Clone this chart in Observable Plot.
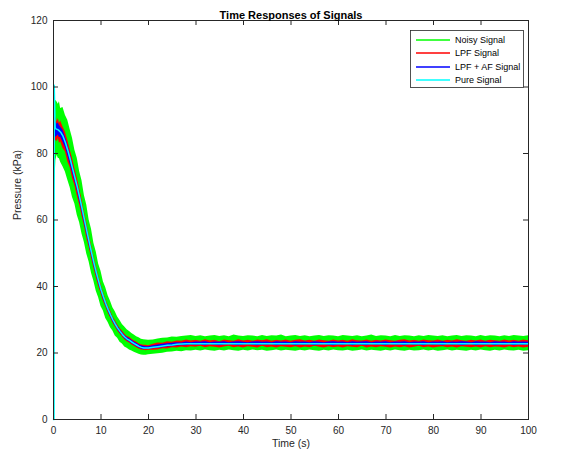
<!DOCTYPE html>
<html><head><meta charset="utf-8">
<script src="https://cdn.jsdelivr.net/npm/d3@7"></script>
<script src="https://cdn.jsdelivr.net/npm/@observablehq/plot@0.6"></script>
<style>body{margin:0;background:#fff;}</style>
</head><body><div id="chart"></div>
<script>
// sample times (s)
const time = [0,0.15,0.25,0.5,0.75,1,1.25,1.5,2,2.5,3,3.5,4,4.5,5,5.5,6,6.5,7,7.5,8,8.5,9,9.5,10,10.5,11,11.5,12,12.5,13,13.5,14,14.5,15,15.5,16,16.5,17,17.5,18,18.5,19,19.5,20,
21,22,23,24,25,26,27,28,29,30,31,32,33,34,35,36,37,38,39,40,41,42,43,44,45,46,47,48,49,50,
51,52,53,54,55,56,57,58,59,60,61,62,63,64,65,66,67,68,69,70,71,72,73,74,75,76,77,78,79,80,
81,82,83,84,85,86,87,88,89,90,91,92,93,94,95,96,97,98,99,100];

// Noisy signal envelope (kPa)
const noisyHigh = [1,92,94.5,96,95.5,94.8,95.6,93.5,93.8,91.5,90,87.2,84.6,81,78.6,74.6,71.8,67.4,64.5,60,57.2,53,50.4,46.8,44.6,41.4,39.6,37.2,35.6,33.6,32.4,30.8,29.8,28.6,27.8,27.0,26.5,25.9,25.4,24.9,24.6,24.1,24.0,23.9,23.8,
23.9,24.2,24.4,24.5,24.8,24.7,25.0,25.1,25.3,25.0,25.2,24.9,25.1,25.3,25.0,25.2,24.9,25.4,25.1,25.0,25.2,25.1,24.9,25.3,25.0,25.2,25.1,25.4,24.9,25.1,
25.3,25.0,25.2,24.9,25.1,25.3,25.0,25.2,25.1,24.9,25.3,25.1,25.0,25.2,24.9,25.1,25.4,25.0,25.2,25.1,24.9,25.3,25.0,25.2,25.1,24.9,25.2,25.0,25.3,25.1,
25.0,25.2,24.9,25.1,25.3,25.0,25.2,25.1,24.9,25.3,25.0,25.2,25.1,24.9,25.2,25.0,25.3,25.1,25.0,25.2];
const noisyLow = [0,66,70,78,79.5,78.6,78.4,77.4,76,74.4,72,69.8,66.8,64.8,61.4,59.2,55.8,53.2,49.8,47.4,44,41.6,38.6,36.6,34,32.6,30.4,29.2,27.6,26.6,25.1,24.4,23.2,22.7,21.8,21.4,20.9,20.6,20.2,19.9,19.6,19.4,19.3,19.3,19.5,
19.6,19.8,19.9,20.2,20.3,20.5,20.4,20.7,20.6,20.8,20.6,20.9,20.7,20.5,20.8,20.6,20.9,20.7,20.5,20.8,20.6,20.9,20.7,20.8,20.5,20.7,20.9,20.6,20.8,20.7,
20.5,20.8,20.6,20.9,20.7,20.5,20.8,20.6,20.9,20.7,20.6,20.8,20.5,20.7,20.9,20.6,20.8,20.7,20.5,20.8,20.6,20.9,20.7,20.5,20.8,20.6,20.7,20.9,20.6,20.8,
20.5,20.7,20.9,20.6,20.8,20.7,20.5,20.8,20.6,20.9,20.7,20.5,20.8,20.6,20.9,20.7,20.6,20.8,20.5,20.7];

// LPF signal envelope (kPa)
const lpfHigh = [0.5,90,90.5,91,89.5,90.5,89,89.8,88,86.5,84,81.2,78.5,75.5,72.6,69.5,66.2,62.4,59.2,55.4,52.4,49.0,46.2,43.2,40.6,38.3,36.2,34.3,32.7,31.0,29.8,28.5,27.4,26.6,25.7,25.0,24.7,24.1,23.6,23.3,22.8,22.5,22.3,22.3,22.2,
22.6,23.0,22.9,23.4,23.2,23.6,23.5,23.9,23.6,23.8,23.5,24.0,23.6,23.8,23.4,23.9,23.7,23.5,24.0,23.6,23.8,23.5,23.9,23.7,24.0,23.5,23.8,23.6,23.9,23.5,
23.8,24.0,23.6,23.8,23.5,23.9,23.7,23.5,23.9,23.6,23.8,23.5,24.0,23.7,23.6,23.9,23.5,23.8,23.6,23.9,23.7,23.5,23.8,24.0,23.6,23.8,23.5,23.9,23.7,23.6,
23.9,23.5,23.8,23.6,24.0,23.7,23.5,23.8,23.6,23.9,23.5,23.8,23.7,23.5,23.9,23.6,23.8,23.5,23.9,23.7];
const lpfLow = [0,80,83,84,83.5,84.5,83,83.5,81.5,80.5,77.5,75.8,72.5,70.4,67.2,64.6,61.2,58.2,54.6,51.8,48.5,45.5,42.7,40.1,37.8,35.6,33.8,32.0,30.5,29.0,27.8,26.6,25.7,24.8,24.0,23.4,23.0,22.4,22.0,21.6,21.2,20.9,20.8,20.7,20.8,
20.8,20.9,21.3,21.2,21.6,21.5,21.8,21.6,21.9,21.7,22.0,21.6,21.9,21.7,21.5,21.8,22.0,21.6,21.8,21.5,21.9,21.7,21.5,22.0,21.6,21.8,21.5,21.9,21.7,21.6,
21.9,21.5,21.8,21.6,22.0,21.7,21.5,21.9,21.6,21.8,21.5,21.9,21.7,21.6,22.0,21.5,21.8,21.6,21.9,21.7,21.5,21.8,21.6,21.9,21.5,21.7,22.0,21.6,21.8,21.5,
21.7,21.9,21.6,21.8,21.5,21.9,21.7,21.6,21.8,21.5,21.9,21.6,21.8,21.7,21.5,21.9,21.6,21.8,21.5,21.7];

// LPF + AF signal envelope (kPa)
const lpfAfHigh = [0.4,88,88.5,89.5,88.8,89.2,88.4,88,87,85,82.6,79.9,77.1,74.2,71.2,68.2,64.9,61.3,58.0,54.6,51.3,48.2,45.2,42.4,39.9,37.6,35.6,33.8,32.2,30.6,29.3,28.1,27.1,26.2,25.3,24.7,24.3,23.8,23.3,22.9,22.5,22.2,22.0,21.9,21.9,
22.2,22.4,22.6,22.8,22.9,23.1,23.0,23.3,23.1,23.3,23.2,23.4,23.1,23.3,23.2,23.4,23.1,23.3,23.4,23.2,23.1,23.3,23.4,23.2,23.3,23.1,23.4,23.2,23.3,23.1,
23.4,23.2,23.3,23.1,23.4,23.2,23.1,23.3,23.4,23.2,23.3,23.1,23.4,23.2,23.3,23.4,23.1,23.3,23.2,23.4,23.1,23.3,23.2,23.4,23.1,23.3,23.2,23.4,23.1,23.3,
23.2,23.4,23.1,23.3,23.2,23.4,23.3,23.1,23.4,23.2,23.3,23.1,23.4,23.2,23.3,23.1,23.4,23.2,23.3,23.2];
const lpfAfLow = [0,83,84.5,85,85.2,85.6,84.8,84.9,83.4,81.8,79.4,76.8,74.2,71.5,68.8,65.6,62.5,59.0,55.7,52.5,49.4,46.3,43.5,40.8,38.4,36.2,34.3,32.5,30.9,29.4,28.2,27.0,26.0,25.2,24.3,23.7,23.3,22.8,22.3,21.9,21.5,21.2,21.0,21.1,21.1,
21.3,21.4,21.6,21.8,21.9,22.1,22.2,22.2,22.4,22.3,22.4,22.2,22.5,22.3,22.2,22.4,22.5,22.3,22.2,22.4,22.5,22.3,22.2,22.4,22.3,22.5,22.2,22.4,22.3,22.5,
22.2,22.4,22.3,22.5,22.2,22.4,22.5,22.3,22.2,22.4,22.3,22.5,22.2,22.4,22.3,22.2,22.5,22.3,22.4,22.2,22.5,22.3,22.4,22.2,22.5,22.3,22.4,22.2,22.5,22.3,
22.4,22.2,22.5,22.3,22.4,22.2,22.3,22.5,22.2,22.4,22.3,22.5,22.2,22.4,22.3,22.5,22.2,22.4,22.3,22.4];

// Pure signal
const pureTime = [0,0.12,0.15,0.35,0.5,1,1.5,2,2.5,3,3.5,4,4.5,5,5.5,6,6.5,7,7.5,8,8.5,9,9.5,10,10.5,11,11.5,12,12.5,13,13.5,14,14.5,15,15.5,16,16.5,17,17.5,18,18.5,19,19.5,20,21,22,23,24,25,26,27,28,29,30,100];
const pureValue = [0,0,100.5,87.8,87.4,87.1,86.4,85.2,83.3,81,78.4,75.6,72.8,70,66.9,63.6,60.2,56.8,53.5,50.3,47.2,44.3,41.6,39.1,36.9,34.9,33.1,31.5,30.0,28.7,27.5,26.5,25.6,24.8,24.2,23.8,23.3,22.8,22.4,22.0,21.7,21.5,21.5,21.5,21.7,21.9,22.1,22.3,22.4,22.6,22.7,22.8,22.8,22.8,22.8];

const xTicks = [0,10,20,30,40,50,60,70,80,90,100];
const yTicks = [0,20,40,60,80,100,120];
const legendNames = ["Noisy Signal","LPF Signal","LPF + AF Signal","Pure Signal"];
const legendColors = ["#00ff00","#ff0000","#0000ff","#00ffff"];

const bands = time.map((t,i)=>({t, nLo: noisyLow[i], nHi: noisyHigh[i], rLo: lpfLow[i], rHi: lpfHigh[i], bLo: lpfAfLow[i], bHi: lpfAfHigh[i]}));
const pure = pureTime.map((t,i)=>({t, v: pureValue[i]}));

const W = 565, H = 457, mL = 53, mR = 37, mT = 20, mB = 38;
const plotW = W - mL - mR, plotH = H - mT - mB;
const axisColor = "#262626";
const font = "'Liberation Sans', Arial, Helvetica, sans-serif";

const legendMark = (index, scales, values, dims) => {
  const g = d3.create("svg:g").attr("font-family", font).attr("font-size", 9).attr("text-anchor", "start");
  const bw = 113, bh = 57;
  const x0 = dims.width - dims.marginRight - bw - 5, y0 = dims.marginTop + 10;
  g.append("rect").attr("x", x0 + 0.5).attr("y", y0 + 0.5).attr("width", bw).attr("height", bh)
    .attr("fill", "#fff").attr("stroke", axisColor).attr("stroke-width", 0.8);
  legendNames.forEach((name, i) => {
    const y = Math.round(y0 + 9.5 + i * 13.6);
    g.append("line").attr("x1", x0 + 6).attr("x2", x0 + 40).attr("y1", y).attr("y2", y)
      .style("stroke", legendColors[i]).style("stroke-width", "1.6px");
    g.append("text").attr("x", x0 + 45).attr("y", y).attr("dy", "0.35em").attr("fill", "#000").text(name);
  });
  return g.node();
};

const chart = Plot.plot({
  width: W, height: H,
  marginLeft: mL, marginRight: mR, marginTop: mT, marginBottom: mB,
  style: {fontFamily: font, fontSize: "10px", color: axisColor, background: "#fff"},
  x: {domain: [0, 100]},
  y: {domain: [0, 120]},
  marks: [
    Plot.areaY(bands, {x: "t", y1: "nLo", y2: "nHi", fill: legendColors[0]}),
    Plot.areaY(bands, {x: "t", y1: "rLo", y2: "rHi", fill: legendColors[1]}),
    Plot.areaY(bands, {x: "t", y1: "bLo", y2: "bHi", fill: legendColors[2]}),
    Plot.line(pure, {x: "t", y: "v", stroke: legendColors[3], strokeWidth: 1.5}),
    Plot.frame({stroke: axisColor}),
    Plot.ruleX(xTicks, {x: d => d, stroke: axisColor, insetTop: plotH - 5}),
    Plot.ruleX(xTicks, {x: d => d, stroke: axisColor, insetBottom: plotH - 5}),
    Plot.ruleY(yTicks, {y: d => d, stroke: axisColor, insetRight: plotW - 5}),
    Plot.ruleY(yTicks, {y: d => d, stroke: axisColor, insetLeft: plotW - 5}),
    Plot.axisX(xTicks, {tickSize: 0, tickPadding: 7, label: null, fill: axisColor}),
    Plot.axisY(yTicks, {tickSize: 0, tickPadding: 6, label: null, fill: axisColor}),
    Plot.text(["Time (s)"], {text: d => d, frameAnchor: "bottom", dy: 27, fontSize: 10.5, fill: axisColor}),
    Plot.text(["Pressure (kPa)"], {text: d => d, frameAnchor: "left", dx: -36, rotate: -90, fontSize: 10.5, fill: axisColor}),
    Plot.text(["Time Responses of Signals"], {text: d => d, frameAnchor: "top", dy: -9, fontSize: 11, fontWeight: "bold", fill: "#000"}),
    legendMark
  ]
});
document.getElementById("chart").appendChild(chart);
</script></body></html>
